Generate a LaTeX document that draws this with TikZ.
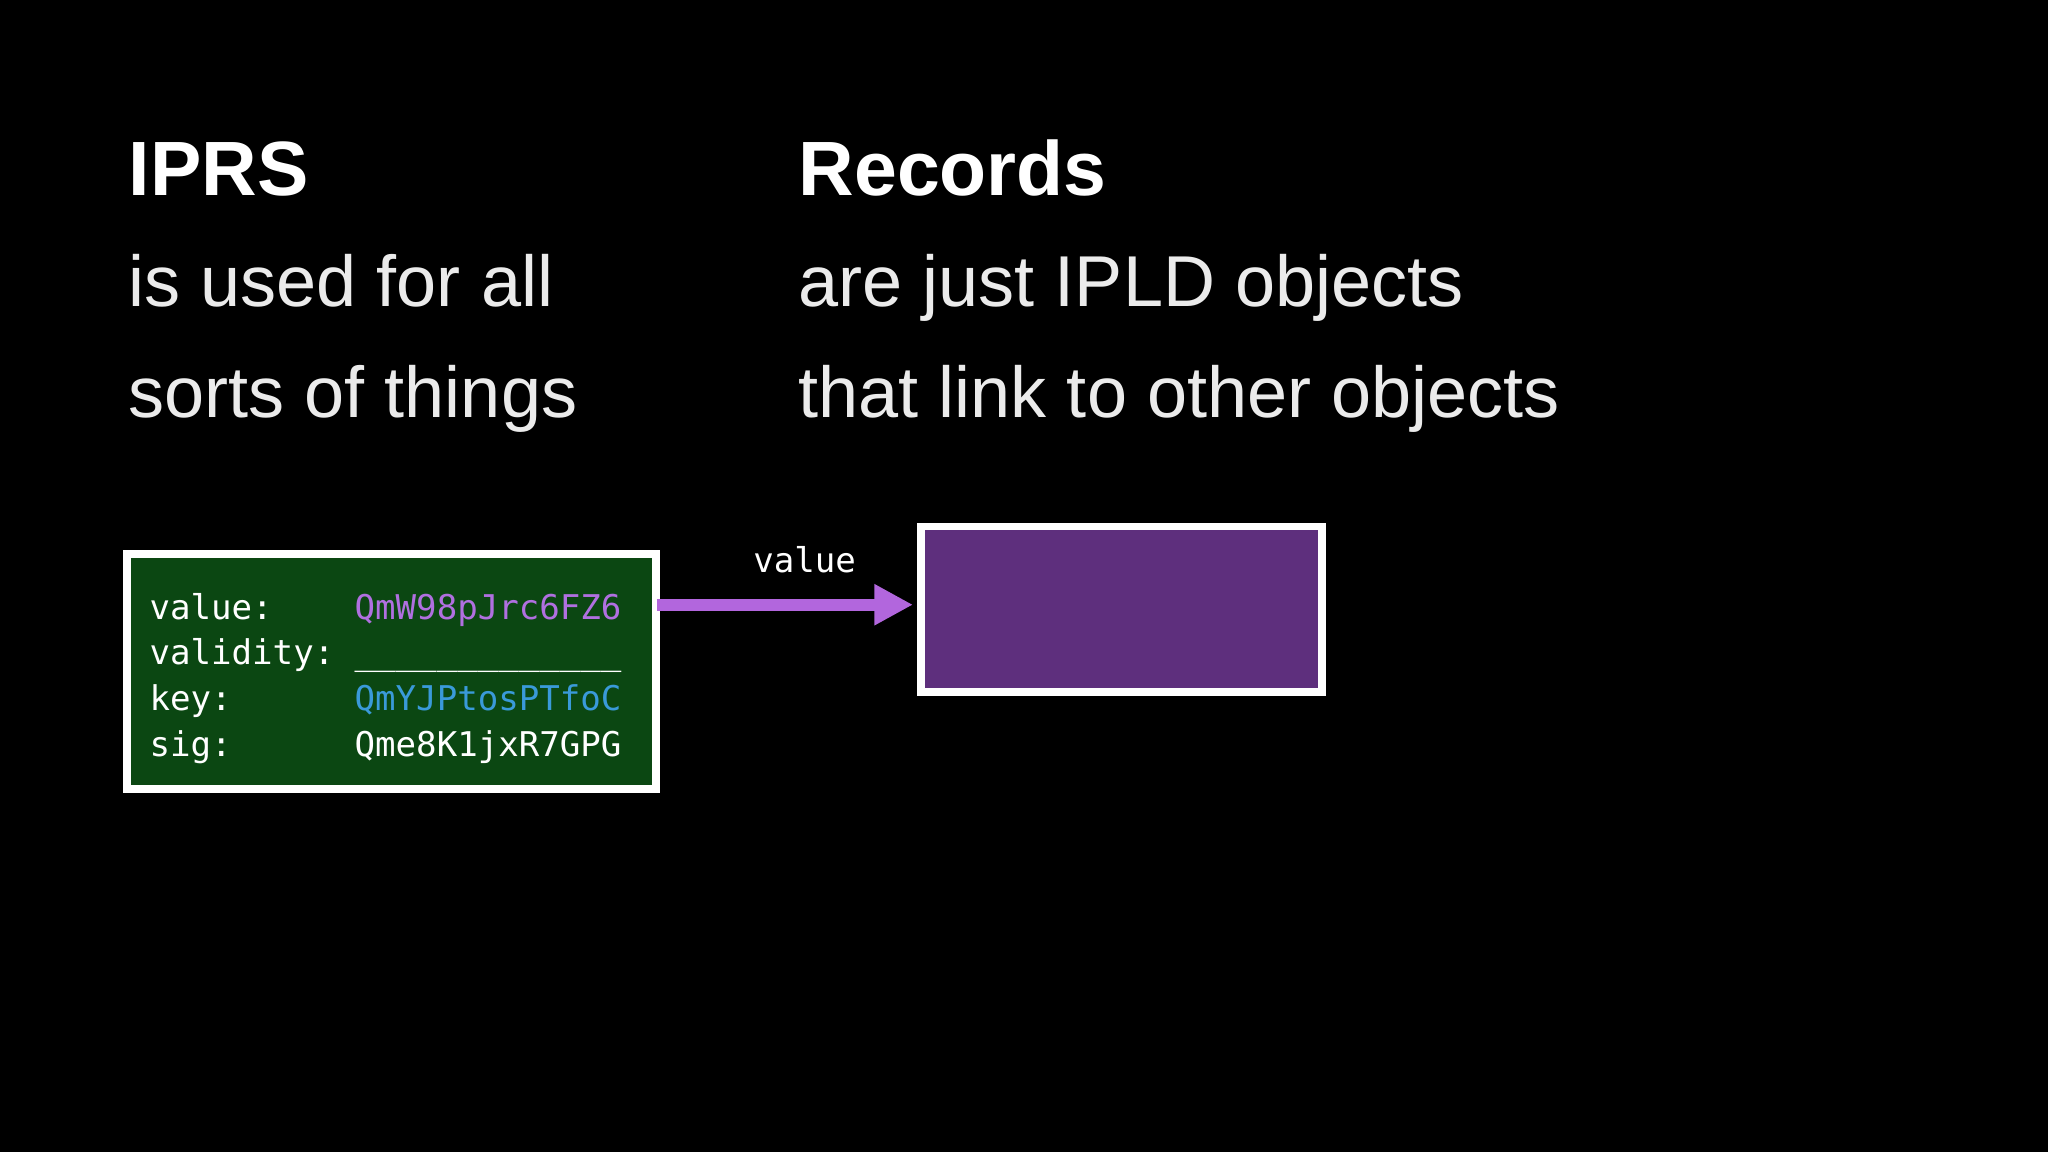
\documentclass[tikz,border=0pt]{standalone}
\usepackage{fontspec}
\setmainfont{Liberation Sans}
\newfontfamily\monof{DejaVu Sans Mono}
\usetikzlibrary{arrows.meta}
\definecolor{boxgreen}{HTML}{0B4712}
\definecolor{boxpurple}{HTML}{5E2F7D}
\definecolor{valpurple}{HTML}{B070E0}
\definecolor{keyblue}{HTML}{3A9AD9}
\definecolor{arrpurple}{HTML}{B266DD}
\begin{document}
\begin{tikzpicture}[x=0.01306cm,y=-0.01306cm,
  head/.style={anchor=base west,inner sep=0,text=white,font=\fontsize{21.9}{26}\selectfont\bfseries},
  body/.style={anchor=base west,inner sep=0,text=white!92!black,font=\fontsize{20.5}{25}\selectfont},
  mono/.style={anchor=base west,inner sep=0,text=white,font=\monof\fontsize{9.7}{12}\selectfont},
  card/.style={draw=white,line width=2.2pt}]
\fill[black] (0,0) rectangle (1568,882);
\useasboundingbox (0,0) rectangle (1568,882);
\node[head] (h1) at (98,150) {IPRS};
\node[body] (b1) at (98,235) {is used for all};
\node[body] (b2) at (98,320) {sorts of things};
\node[head] (h2) at (611,150) {Records};
\node[body] (b3) at (611,235) {are just IPLD objects};
\node[body] (b4) at (611,320) {that link to other objects};
\draw[card,fill=boxgreen] (97,424) rectangle (502,604);
\coordinate (gr) at (503,463);
\node[mono] (l1) at (114,474) {value:};
\node[mono] (l2) at (114,509) {validity:};
\node[mono] (l3) at (114,544) {key:};
\node[mono] (l4) at (114,579) {sig:};
\node[mono,text=valpurple] (v1) at (271,474) {QmW98pJrc6FZ6};
\node[mono] (v2) at (271,509) {\_\_\_\_\_\_\_\_\_\_\_\_\_};
\node[mono,text=keyblue] (v3) at (271,544) {QmYJPtosPTfoC};
\node[mono] (v4) at (271,579) {Qme8K1jxR7GPG};
\draw[card,fill=boxpurple] (705,403) rectangle (1012,530);
\coordinate (pl) at (699,463);
\draw[arrpurple,line width=3.3pt,-{Triangle[length=11pt,width=11pt]}] (gr) -- (pl);
\node[mono,anchor=base] (lab) at (616,438) {value};
\end{tikzpicture}
\end{document}
